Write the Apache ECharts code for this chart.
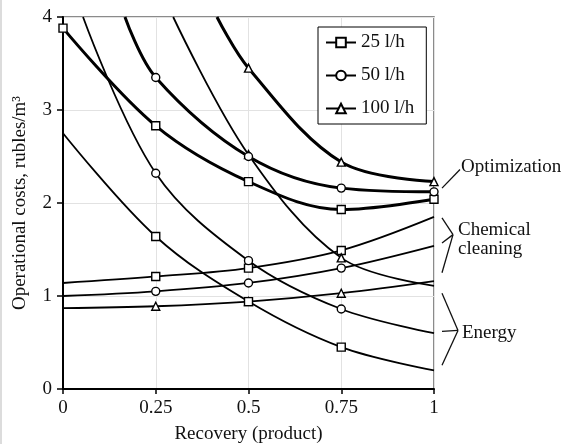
<!DOCTYPE html>
<html>
<head>
<meta charset="utf-8">
<script src="https://cdn.jsdelivr.net/npm/echarts@6/dist/echarts.min.js"></script>
<style>
  html, body { margin: 0; padding: 0; background: #fff; }
  #chart { width: 565px; height: 444px; }
</style>
</head>
<body>
<div id="chart"></div>
<script>
// Recovery (product) ticks and operational cost ticks
const xTicks = [0, 0.25, 0.5, 0.75, 1];
const yTicks = [0, 1, 2, 3, 4];

const flowNames = ['25 l/h', '50 l/h', '100 l/h'];
const flowSymbols = ['rect', 'circle', 'triangle'];

// Optimization (total) costs, rubles/m3 — [recovery, cost]
const opt25  = [[0, 3.88], [0.25, 2.83], [0.5, 2.23], [0.75, 1.93], [1, 2.04]];
const opt50  = [[0.167, 4], [0.25, 3.35], [0.5, 2.50], [0.75, 2.16], [1, 2.12]];
const opt100 = [[0.415, 4], [0.5, 3.45], [0.75, 2.44], [1, 2.23]];

// Chemical cleaning costs
const chem25  = [[0, 1.14], [0.25, 1.21], [0.5, 1.30], [0.75, 1.49], [1, 1.85]];
const chem50  = [[0, 1.00], [0.25, 1.05], [0.5, 1.14], [0.75, 1.30], [1, 1.54]];
const chem100 = [[0, 0.87], [0.25, 0.89], [0.5, 0.94], [0.75, 1.03], [1, 1.16]];

// Energy costs
const energy25  = [[0, 2.75], [0.25, 1.64], [0.5, 0.94], [0.75, 0.45], [1, 0.20]];
const energy50  = [[0.054, 4], [0.25, 2.32], [0.5, 1.38], [0.75, 0.86], [1, 0.60]];
const energy100 = [[0.297, 4], [0.5, 2.52], [0.75, 1.41], [1, 1.11]];

// Bracket anchors (cost values at the right edge)
const optNoteY = [2.16, 2.36];
const chemNoteY = [1.84, 1.57, 1.25, 1.66];
const energyNoteY = [1.03, 0.62, 0.255, 0.63];

const FONT = "'Liberation Serif', 'Times New Roman', serif";

function makeSeries(name, symbol, data, thick, endMarkers) {
  return {
    name: name,
    type: 'line',
    smooth: 0.35,
    symbol: symbol,
    symbolSize: 8,
    showSymbol: true,
    clip: true,
    lineStyle: { color: '#000', width: thick ? 3 : 1.8 },
    itemStyle: { color: '#fff', borderColor: '#000', borderWidth: 1.4 },
    emphasis: { disabled: true },
    z: thick ? 3 : 2,
    data: data.map(function (p) {
      const inner = p[0] === 0.25 || p[0] === 0.5 || p[0] === 0.75;
      const edge = (p[0] === 0 || p[0] === 1) && endMarkers;
      return (inner || edge) ? { value: p } : { value: p, symbol: 'none' };
    })
  };
}

const series = [
  makeSeries(flowNames[0], flowSymbols[0], opt25, true, true),
  makeSeries(flowNames[1], flowSymbols[1], opt50, true, true),
  makeSeries(flowNames[2], flowSymbols[2], opt100, true, true),
  makeSeries(flowNames[0], flowSymbols[0], chem25, false, false),
  makeSeries(flowNames[1], flowSymbols[1], chem50, false, false),
  makeSeries(flowNames[2], flowSymbols[2], chem100, false, false),
  makeSeries(flowNames[0], flowSymbols[0], energy25, false, false),
  makeSeries(flowNames[1], flowSymbols[1], energy50, false, false),
  makeSeries(flowNames[2], flowSymbols[2], energy100, false, false)
];

const chart = echarts.init(document.getElementById('chart'), null, { renderer: 'canvas' });

chart.setOption({
  animation: false,
  backgroundColor: '#fff',
  textStyle: { fontFamily: FONT },
  grid: {
    left: 63, right: 131, top: 17, bottom: 55,
    outerBoundsMode: 'none', containLabel: false,
    show: true, borderColor: '#666', borderWidth: 1.5, backgroundColor: 'transparent'
  },
  legend: {
    data: flowNames,
    orient: 'vertical',
    left: 318, top: 27,
    padding: [6, 12, 6, 7],
    itemGap: 14,
    itemWidth: 30, itemHeight: 12,
    borderColor: '#000', borderWidth: 1,
    backgroundColor: '#fff',
    textStyle: { fontFamily: FONT, fontSize: 19, color: '#111' },
    selectedMode: false
  },
  xAxis: {
    type: 'value', min: 0, max: 1, interval: 0.25,
    name: 'Recovery (product)', nameLocation: 'middle', nameGap: 36,
    nameTextStyle: { fontFamily: FONT, fontSize: 19, color: '#111' },
    axisLine: { show: true, lineStyle: { color: '#000', width: 2 } },
    axisTick: { show: true, inside: false, length: 5, lineStyle: { color: '#000', width: 1.5 } },
    axisLabel: { fontFamily: FONT, fontSize: 19, color: '#111', margin: 10,
      formatter: function (v) { return String(v); } },
    splitLine: { show: true, lineStyle: { color: '#e2e2e2', width: 1 } }
  },
  yAxis: {
    type: 'value', min: 0, max: 4, interval: 1,
    name: 'Operational costs, rubles/m³', nameLocation: 'middle', nameGap: 33,
    nameTextStyle: { fontFamily: FONT, fontSize: 19, color: '#111' },
    axisLine: { show: true, lineStyle: { color: '#000', width: 2 } },
    axisTick: { show: true, inside: false, length: 6, lineStyle: { color: '#000', width: 1.5 } },
    axisLabel: { fontFamily: FONT, fontSize: 19, color: '#111', margin: 11 },
    splitLine: { show: true, lineStyle: { color: '#e2e2e2', width: 1 } }
  },
  series: series
});

// Bracket annotations on the right, anchored to the axis scale
function px(x, y) { return chart.convertToPixel({ gridIndex: 0 }, [x, y]); }
const xr = px(1, 0)[0];
function py(v) { return px(1, v)[1]; }
const lineStyle = { stroke: '#111', lineWidth: 1.3 };
function seg(x1, y1, x2, y2) {
  return { type: 'line', shape: { x1: x1, y1: y1, x2: x2, y2: y2 }, style: lineStyle, silent: true };
}
function label(x, y, t) {
  return { type: 'text', x: x, y: y, silent: true,
    style: { text: t, fontFamily: FONT, fontSize: 19, fill: '#111', verticalAlign: 'middle', align: 'left' } };
}
const g = [];
g.push(seg(xr + 8, py(optNoteY[0]), xr + 26, py(optNoteY[1])));
g.push(label(xr + 27, py(optNoteY[1]) - 2.5, 'Optimization'));
const chemApex = [xr + 19, py(chemNoteY[3])];
for (let i = 0; i < 3; i++) g.push(seg(xr + 8, py(chemNoteY[i]), chemApex[0], chemApex[1]));
g.push(label(xr + 24, py(chemNoteY[3]) - 5, 'Chemical'));
g.push(label(xr + 24, py(chemNoteY[3]) + 14, 'cleaning'));
const enApex = [xr + 24, py(energyNoteY[3])];
for (let i = 0; i < 3; i++) g.push(seg(xr + 8, py(energyNoteY[i]), enApex[0], enApex[1]));
g.push(label(xr + 28, py(energyNoteY[3]) + 3, 'Energy'));
// thin frame edge on the left of the figure
g.push({ type: 'line', shape: { x1: 1, y1: 0, x2: 1, y2: 444 }, style: { stroke: '#d0d0d0', lineWidth: 1.5 }, silent: true });
chart.setOption({ graphic: g });
</script>
</body>
</html>
